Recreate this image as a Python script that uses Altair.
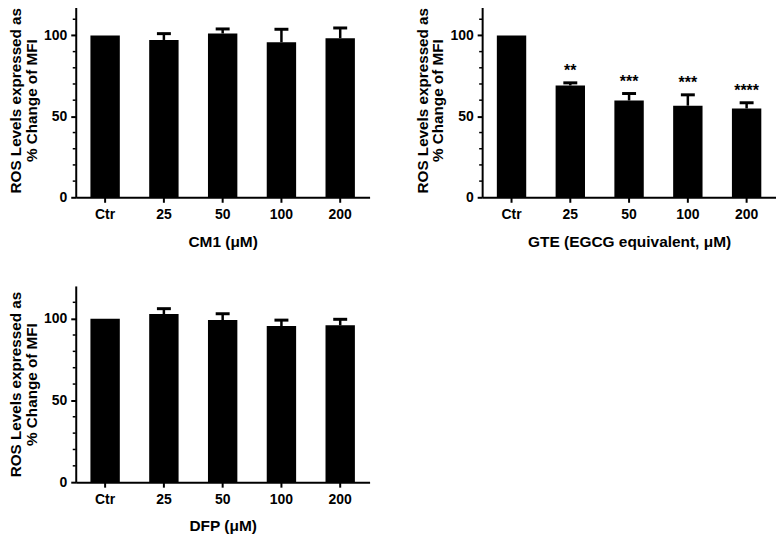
import altair as alt
import pandas as pd

categories = ["Ctr", "25", "50", "100", "200"]
cm1_mean = [100, 97.2, 101.2, 95.8, 98.3]
cm1_err = [0, 3.9, 2.8, 8.0, 6.3]
gte_mean = [100, 69.1, 59.8, 56.6, 54.9]
gte_err = [0, 1.6, 4.3, 6.7, 3.5]
gte_sig = ["", "**", "***", "***", "****"]
dfp_mean = [100, 102.8, 99.1, 95.5, 95.9]
dfp_err = [0, 3.3, 3.9, 3.6, 3.7]
y_major = [0, 50, 100]
y_minor = [10, 20, 30, 40, 60, 70, 80, 90, 110]
y_title = ["ROS Levels expressed as", "% Change of MFI"]
FONT = "Liberation Sans"


def panel(mean, err, xtitle, height, sig=None):
    df = pd.DataFrame({"cat": categories, "mean": mean, "err": err})
    df["upper"] = df["mean"] + df["err"]
    if sig is not None:
        df["sig"] = sig
    errdf = df[df["err"] > 0]

    xscale = alt.Scale(paddingInner=0.5, paddingOuter=0.25)
    xaxis = alt.Axis(title=xtitle, labelAngle=0, labelPadding=5, titlePadding=13,
                     tickSize=5, labelFontSize=14, labelFontWeight="bold",
                     titleFontSize=15.5, titleFontWeight="bold")
    yscale = alt.Scale(domain=[0, 120], nice=False)
    yaxis = alt.Axis(title=y_title, values=y_major, tickSize=5, labelPadding=4,
                     titlePadding=4, labelFontSize=14, labelFontWeight="bold",
                     titleFontSize=15.3, titleFontWeight="bold", titleLineHeight=16)

    def X():
        return alt.X("cat:N", sort=categories, scale=xscale, axis=xaxis)

    bars = alt.Chart(df).mark_bar(color="black").encode(
        x=X(), y=alt.Y("mean:Q", scale=yscale, axis=yaxis))
    rules = alt.Chart(errdf).mark_rule(color="black", strokeWidth=2.5).encode(
        x=X(), y=alt.Y("mean:Q", scale=yscale, axis=yaxis), y2="upper:Q")
    caps = alt.Chart(errdf).mark_tick(color="black", size=14, thickness=3, opacity=1).encode(
        x=X(), y=alt.Y("upper:Q", scale=yscale, axis=yaxis))
    minor = alt.Chart(pd.DataFrame({"v": y_minor})).mark_rule(color="black", strokeWidth=1.5).encode(
        x=alt.value(-3), x2=alt.value(0), y=alt.Y("v:Q", scale=yscale, axis=yaxis))
    layers = [bars, rules, caps, minor]
    if sig is not None:
        sigdf = df[df["sig"] != ""]
        txt = alt.Chart(sigdf).mark_text(dy=-7, baseline="alphabetic", fontSize=16,
                                         fontWeight="bold", font=FONT, color="black").encode(
            x=X(), y=alt.Y("upper:Q", scale=yscale, axis=yaxis), text="sig:N")
        layers.append(txt)
    return alt.layer(*layers).properties(width=295, height=height)


p1 = panel(cm1_mean, cm1_err, "CM1 (\u03bcM)", 195)
p2 = panel(gte_mean, gte_err, "GTE (EGCG equivalent, \u03bcM)", 195, gte_sig)
p3 = panel(dfp_mean, dfp_err, "DFP (\u03bcM)", 197)

chart = alt.vconcat(alt.hconcat(p1, p2, spacing=45), p3, spacing=36).properties(
    padding={"top": -6, "left": 0, "right": 0, "bottom": 0}
).configure_view(stroke=None).configure_axis(
    grid=False, domainColor="black", domainWidth=2, tickColor="black", tickWidth=2,
    labelColor="black", titleColor="black", labelFont=FONT, titleFont=FONT
)

chart.save("out.html", embed_options={"renderer": "svg", "actions": False})
